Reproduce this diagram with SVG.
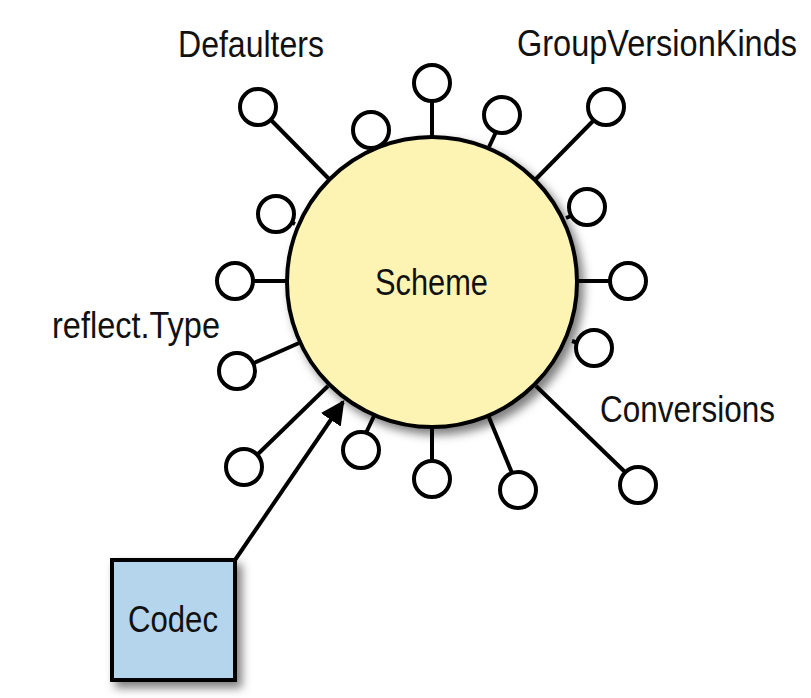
<svg xmlns="http://www.w3.org/2000/svg" width="811" height="698" viewBox="0 0 811 698">
<defs>
<filter id="shadow" x="-20%" y="-20%" width="150%" height="150%">
<feDropShadow dx="5" dy="6" stdDeviation="5" flood-color="#000" flood-opacity="0.5"/>
</filter>
<marker id="arrow" viewBox="0 0 10 10" refX="9" refY="5" markerWidth="6" markerHeight="6" markerUnits="strokeWidth" orient="auto">
<path d="M0,0 L10,5 L0,10 Z" fill="#000"/>
</marker>
<style>
.stem{stroke:#000;stroke-width:4;fill:none}
.knob{fill:#fff;stroke:#000;stroke-width:4}
.lbl{font-family:"Liberation Sans",Arial,sans-serif;font-size:37px;fill:#111}
.lbl2{font-family:"Liberation Sans",Arial,sans-serif;font-size:32px;fill:#111}
</style>
</defs>
<rect width="811" height="698" fill="#fff"/>
<g id="connectors">
<line class="stem" x1="432" y1="101" x2="432" y2="140"/>
<line class="stem" x1="271" y1="120" x2="330" y2="180"/>
<line class="stem" x1="593" y1="121" x2="535" y2="180"/>
<line class="stem" x1="496" y1="132" x2="489" y2="147"/>
<line class="stem" x1="253" y1="281" x2="289" y2="281"/>
<line class="stem" x1="610" y1="281" x2="575" y2="281"/>
<line class="stem" x1="254" y1="363" x2="299" y2="343"/>
<line class="stem" x1="258" y1="454" x2="328" y2="386"/>
<line class="stem" x1="366" y1="433" x2="374" y2="416"/>
<line class="stem" x1="432" y1="462" x2="432" y2="425"/>
<line class="stem" x1="512" y1="473" x2="488" y2="415"/>
<line class="stem" x1="625" y1="472" x2="536" y2="386"/>
<line class="stem" x1="291" y1="222" x2="295" y2="224"/>
<line class="stem" x1="571" y1="216" x2="566" y2="218"/>
<line class="stem" x1="578" y1="343" x2="572" y2="341"/>
<line class="stem" x1="235" y1="560" x2="343" y2="402" marker-end="url(#arrow)"/>
</g>
<g id="scheme">
<circle cx="432" cy="282" r="145" fill="#fdf4b4" stroke="#000" stroke-width="4" filter="url(#shadow)"/>
<text class="lbl" x="375" y="295" textLength="113" lengthAdjust="spacingAndGlyphs">Scheme</text>
</g>
<g id="knobs">
<circle class="knob" cx="432" cy="83" r="18"/>
<circle class="knob" cx="371" cy="130" r="18"/>
<circle class="knob" cx="258" cy="107" r="18"/>
<circle class="knob" cx="502" cy="115" r="18"/>
<circle class="knob" cx="606" cy="107" r="18"/>
<circle class="knob" cx="276" cy="214" r="18"/>
<circle class="knob" cx="587" cy="207" r="18"/>
<circle class="knob" cx="235" cy="281" r="18"/>
<circle class="knob" cx="628" cy="281" r="18"/>
<circle class="knob" cx="237" cy="371" r="18"/>
<circle class="knob" cx="594" cy="348" r="18"/>
<circle class="knob" cx="244" cy="467" r="18"/>
<circle class="knob" cx="361" cy="450" r="18"/>
<circle class="knob" cx="432" cy="479" r="18"/>
<circle class="knob" cx="518" cy="490" r="18"/>
<circle class="knob" cx="638" cy="485" r="18"/>
</g>
<g id="codec">
<rect x="112" y="560" width="123" height="120" fill="#b4d5ec" stroke="#000" stroke-width="4" filter="url(#shadow)"/>
<text class="lbl" x="128" y="632" textLength="90" lengthAdjust="spacingAndGlyphs">Codec</text>
</g>
<g id="labels">
<text class="lbl" x="178" y="57" textLength="146" lengthAdjust="spacingAndGlyphs">Defaulters</text>
<text class="lbl2" transform="translate(517,56) scale(1,1.16)" x="0" y="0" textLength="280" lengthAdjust="spacingAndGlyphs">GroupVersionKinds</text>
<text class="lbl" x="52" y="338" textLength="168" lengthAdjust="spacingAndGlyphs">reflect.Type</text>
<text class="lbl" x="600" y="422" textLength="175" lengthAdjust="spacingAndGlyphs">Conversions</text>
</g>
</svg>
